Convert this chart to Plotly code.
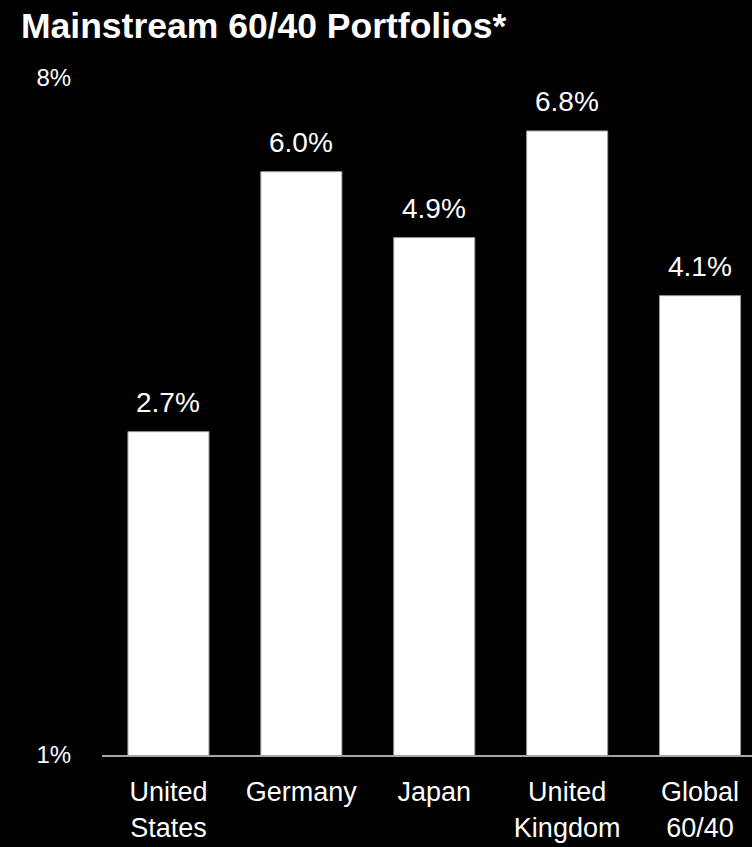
import plotly.graph_objects as go
import math

categories = ["United<br>States", "Germany", "Japan", "United<br>Kingdom", "Global<br>60/40"]
values = [2.7, 6.0, 4.9, 6.8, 4.1]
value_labels = ["2.7%", "6.0%", "4.9%", "6.8%", "4.1%"]
tick_vals = [1, 8]
tick_text = ["1%", "8%"]
title_text = "Mainstream 60/40 Portfolios*"

FONT = "Liberation Sans, Arial, sans-serif"

fig = go.Figure()
fig.add_trace(go.Bar(
    x=list(range(len(categories))),
    y=values,
    width=0.61,
    marker=dict(color="white", line=dict(color="#9a9a9a", width=1)),
    showlegend=False,
    hoverinfo="skip",
))

for i, (v, t) in enumerate(zip(values, value_labels)):
    fig.add_annotation(x=i, y=math.log10(v), text=t, showarrow=False,
                       yanchor="bottom", yshift=12,
                       font=dict(family=FONT, size=28, color="white"))

W, H = 752, 847
left, top, bottom = 101.5, 78, 92

fig.update_layout(
    width=W, height=H,
    paper_bgcolor="black", plot_bgcolor="black",
    margin=dict(l=left, r=0, t=top, b=bottom, autoexpand=False),
    title=dict(text="<b>" + title_text + "</b>", x=21 / W, xanchor="left",
               y=1 - 26 / H, yanchor="middle", xref="container", yref="container",
               font=dict(family=FONT, size=35.5, color="white")),
    font=dict(family=FONT, color="white"),
)
fig.update_xaxes(
    range=[-0.5, -0.5 + (W - left) / 133.0],
    tickvals=list(range(len(categories))), ticktext=categories,
    tickfont=dict(family=FONT, size=27, color="white"),
    showgrid=False, zeroline=False,
    showline=True, linecolor="#a6a6a6", linewidth=2,
    ticks="outside", ticklen=12, tickcolor="black",
)
fig.update_yaxes(
    type="log", range=[0, math.log10(8)],
    tickvals=tick_vals, ticktext=tick_text,
    tickfont=dict(family=FONT, size=24, color="white"),
    showgrid=False, zeroline=False, showline=False,
    ticks="outside", ticklen=25, tickcolor="black",
)
fig.write_html("out.html", config={"displayModeBar": False},
               post_script="document.body.style.margin='0';document.body.style.background='black';")
